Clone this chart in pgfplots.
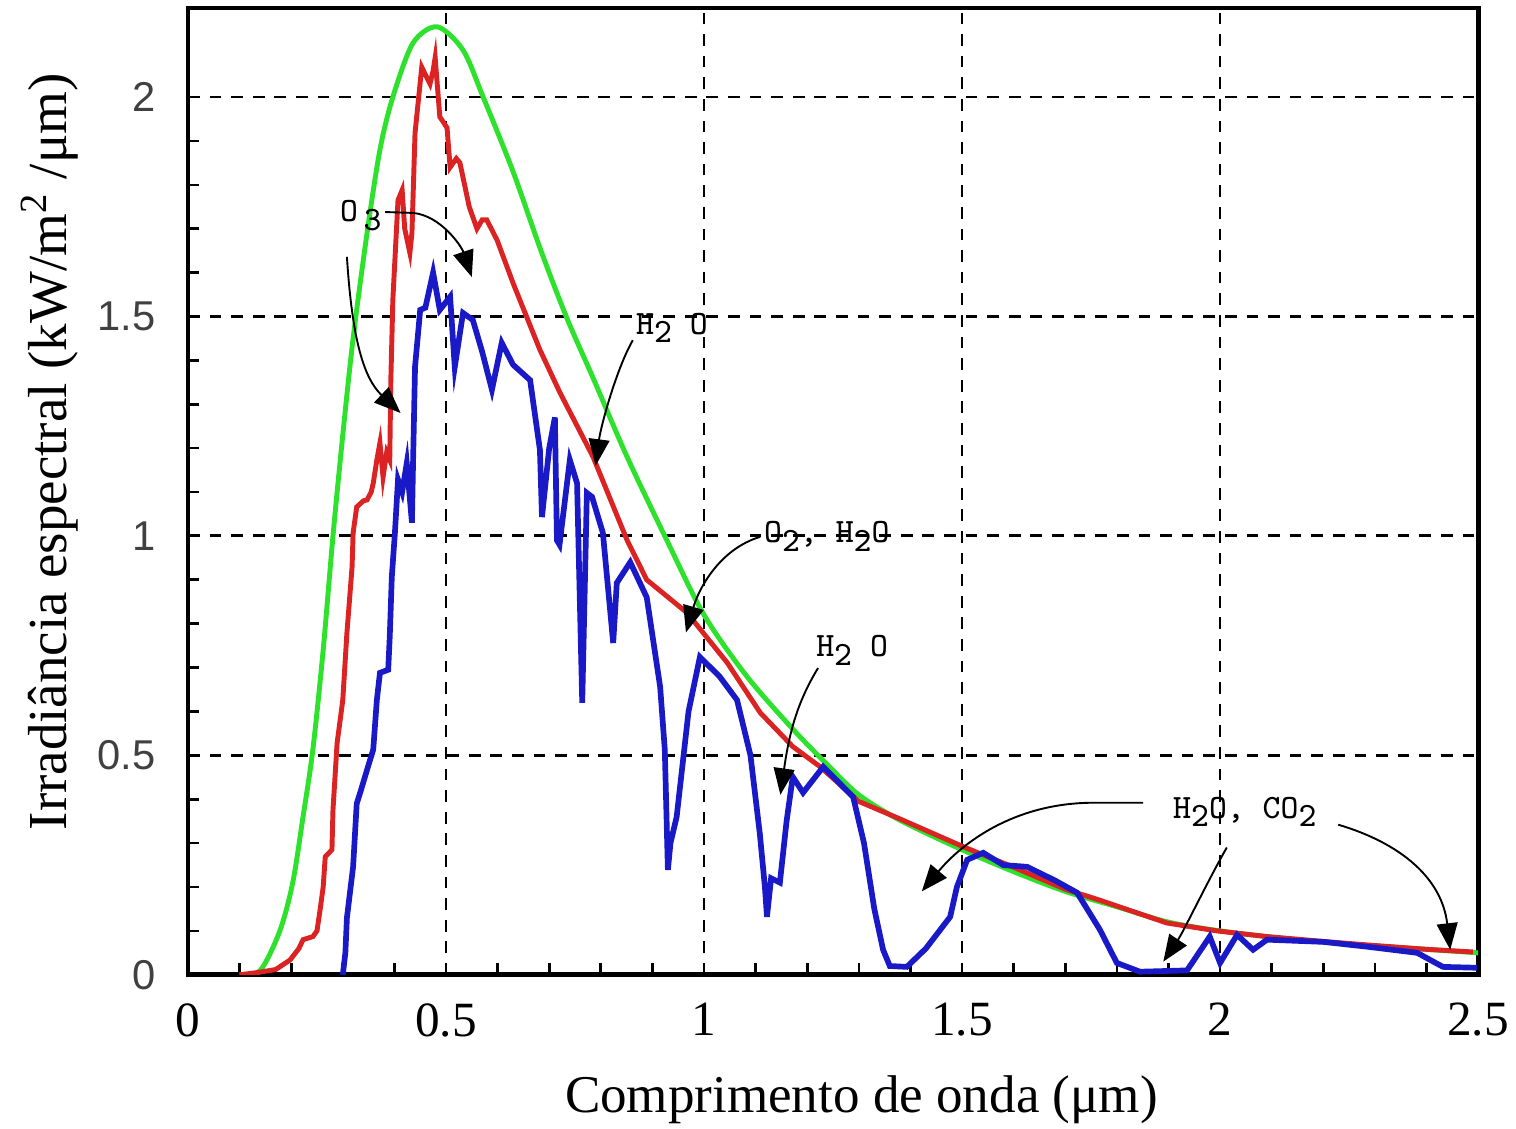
\documentclass[border=0pt]{standalone}
\usepackage{fontspec}
\setmainfont{Liberation Serif}
\setsansfont{Liberation Sans}
\usepackage{pgfplots}
\pgfplotsset{compat=1.18}
\usetikzlibrary{arrows.meta}
\definecolor{cgreen}{RGB}{45,225,45}
\definecolor{cred}{RGB}{220,35,35}
\definecolor{cblue}{RGB}{25,25,200}
\newcommand\sub[1]{\raisebox{-0.6ex}{#1}}
\newcommand\ann{\fontsize{9}{10}\selectfont\ttfamily}
\begin{document}
\begin{tikzpicture}
\useasboundingbox (-49.6pt,-40.6pt) rectangle (350.4pt,257.2pt);
\begin{axis}[
  scale only axis, width=340.4pt, height=255.1pt,
  xmin=0, xmax=2.5, ymin=0, ymax=2.203,
  xtick={0,0.5,1,1.5,2,2.5}, ytick={0,0.5,1,1.5,2},
  minor x tick num=4, minor y tick num=4,
  tick align=inside, tick pos=left,
  major tick length=3pt, minor tick length=3pt,
  every tick/.style={black, line width=0.7pt},
  axis line style={line width=1.3pt},
  grid=major,
  major grid style={black, dash pattern=on 3.1pt off 2.6pt, line width=0.75pt},
  /pgf/number format/assume math mode=true,
  xticklabel style={font=\fontsize{13}{14}\selectfont\rmfamily, yshift=-4pt},
  yticklabel style={font=\fontsize{11}{12}\selectfont\sffamily, text=black!75, xshift=-5pt},
  xlabel={Comprimento de onda (μm)},
  ylabel={Irradiância espectral (kW/m\textsuperscript{2} /μm)},
  xlabel style={font=\fontsize{14}{16}\selectfont, at={(axis description cs:0.522,-0.129)}, anchor=center},
  ylabel style={font=\fontsize{14.5}{16}\selectfont, at={(axis description cs:-0.107,0.541)}, anchor=center},
]
% green (extraterrestrial)
\addplot[cgreen, line width=1.3pt, smooth, tension=0.5] coordinates {
(0.10,0.0) (0.14,0.01) (0.178,0.1) (0.203,0.21) (0.223,0.36) (0.242,0.513) (0.262,0.74)
(0.281,1.0) (0.30,1.23) (0.32,1.45) (0.347,1.69) (0.372,1.88) (0.397,2.0) (0.436,2.123)
(0.483,2.16) (0.533,2.107) (0.572,2.0) (0.63,1.83) (0.684,1.65) (0.734,1.497) (0.785,1.36)
(0.851,1.18) (0.928,0.99) (1.0,0.82) (1.083,0.68) (1.172,0.56) (1.238,0.48) (1.30,0.41)
(1.38,0.352) (1.5,0.285) (1.6,0.235) (1.7,0.19) (1.8,0.155)
(1.9,0.12) (2.0,0.1) (2.1,0.086) (2.2,0.075) (2.3,0.066) (2.4,0.058) (2.5,0.05)
};
% red (sea level, direct)
\addplot[cred, line width=1.3pt] coordinates {
(0.10,0.0) (0.134,0.005) (0.17,0.012) (0.198,0.034) (0.215,0.06) (0.223,0.08) (0.242,0.087)
(0.25,0.1) (0.256,0.148) (0.262,0.2) (0.266,0.269) (0.279,0.285) (0.281,0.376) (0.289,0.528)
(0.3,0.626) (0.308,0.779) (0.318,0.929) (0.32,1.007) (0.327,1.066) (0.34,1.08) (0.347,1.082)
(0.355,1.1) (0.359,1.12) (0.366,1.173) (0.372,1.212) (0.378,1.134) (0.385,1.19) (0.391,1.173)
(0.393,1.35) (0.397,1.538) (0.407,1.765) (0.415,1.788) (0.42,1.7) (0.43,1.645) (0.434,1.69)
(0.44,1.918) (0.453,2.068) (0.469,2.03) (0.475,2.06) (0.479,2.09) (0.488,1.955) (0.502,1.93)
(0.508,1.84) (0.52,1.86) (0.527,1.85) (0.545,1.75) (0.56,1.70) (0.57,1.72)
(0.579,1.72) (0.599,1.674) (0.63,1.576) (0.682,1.424) (0.721,1.326) (0.785,1.18) (0.851,0.99)
(0.889,0.9) (0.967,0.825) (1.045,0.711) (1.109,0.597) (1.172,0.52) (1.225,0.474) (1.30,0.395)
(1.38,0.355) (1.502,0.292) (1.6,0.245) (1.7,0.195) (1.767,0.17) (1.897,0.118) (1.994,0.1)
(2.091,0.087) (2.2,0.076) (2.285,0.068) (2.4,0.058) (2.49,0.052)
};
% blue (sea level, global with absorption)
\addplot[cblue, line width=1.5pt] coordinates {
(0.30,0.0) (0.305,0.05) (0.308,0.13) (0.32,0.246) (0.327,0.39) (0.335,0.42) (0.347,0.467)
(0.359,0.513) (0.366,0.626) (0.372,0.688) (0.388,0.695) (0.391,0.77) (0.395,0.907) (0.401,1.007)
(0.407,1.128) (0.415,1.1) (0.424,1.166) (0.434,1.03) (0.436,1.157) (0.44,1.385) (0.45,1.515)
(0.46,1.52) (0.475,1.6) (0.488,1.515) (0.498,1.53) (0.508,1.545) (0.517,1.385) (0.533,1.508)
(0.552,1.492) (0.57,1.42) (0.589,1.333) (0.608,1.44) (0.63,1.39) (0.663,1.355) (0.682,1.196)
(0.686,1.043) (0.70,1.2) (0.711,1.27) (0.715,0.99) (0.72,0.98) (0.74,1.173) (0.754,1.12)
(0.764,0.62) (0.773,1.098) (0.783,1.089) (0.804,1.007) (0.824,0.756) (0.831,0.893) (0.857,0.94)
(0.889,0.86) (0.915,0.656) (0.924,0.513) (0.93,0.239) (0.935,0.3) (0.947,0.36) (0.97,0.6)
(0.992,0.724) (1.03,0.68) (1.064,0.626) (1.09,0.5) (1.108,0.323) (1.118,0.2) (1.122,0.132)
(1.13,0.22) (1.147,0.21) (1.16,0.35) (1.172,0.451) (1.192,0.415) (1.231,0.474) (1.289,0.405)
(1.31,0.3) (1.33,0.15) (1.347,0.057) (1.36,0.02) (1.393,0.018) (1.43,0.06) (1.477,0.132)
(1.49,0.2) (1.51,0.262) (1.541,0.278) (1.58,0.25) (1.626,0.246) (1.68,0.215) (1.723,0.187)
(1.767,0.103) (1.8,0.027) (1.845,0.007) (1.936,0.01) (1.98,0.087) (2.0,0.027) (2.033,0.091)
(2.064,0.057) (2.091,0.08) (2.2,0.075) (2.285,0.064) (2.382,0.05) (2.432,0.018) (2.498,0.016)
};
% annotations
\tikzset{ann/.style={black, line width=0.5pt, -{Triangle[length=7pt,width=5.5pt]}}}
\node at (axis cs:0.335,1.73) {\ann O\,\sub{3}};
\draw[ann] (axis cs:0.308,1.636) .. controls (axis cs:0.318,1.45) and (axis cs:0.34,1.36) .. (axis cs:0.412,1.28);
\draw[ann] (axis cs:0.382,1.738) -- (axis cs:0.436,1.736) .. controls (axis cs:0.49,1.73) and (axis cs:0.53,1.66) .. (axis cs:0.55,1.59);
\node at (axis cs:0.938,1.474) {\ann H\sub{2} O};
\draw[ann] (axis cs:0.862,1.446) .. controls (axis cs:0.83,1.38) and (axis cs:0.8,1.25) .. (axis cs:0.79,1.16);
\node at (axis cs:1.238,0.998) {\ann O\sub{2}, H\sub{2}O};
\draw[ann] (axis cs:1.109,0.998) .. controls (axis cs:1.03,0.97) and (axis cs:0.99,0.88) .. (axis cs:0.965,0.78);
\node at (axis cs:1.287,0.74) {\ann H\sub{2} O};
\draw[ann] (axis cs:1.221,0.699) .. controls (axis cs:1.18,0.62) and (axis cs:1.165,0.55) .. (axis cs:1.148,0.41);
\node at (axis cs:2.048,0.371) {\ann H\sub{2}O, CO\sub{2}};
\draw[ann] (axis cs:1.851,0.392) -- (axis cs:1.75,0.392) .. controls (axis cs:1.6,0.39) and (axis cs:1.5,0.3) .. (axis cs:1.422,0.19);
\draw[ann] (axis cs:2.013,0.29) .. controls (axis cs:1.97,0.2) and (axis cs:1.93,0.1) .. (axis cs:1.89,0.03);
\draw[ann] (axis cs:2.229,0.342) .. controls (axis cs:2.35,0.3) and (axis cs:2.43,0.22) .. (axis cs:2.446,0.057);
\end{axis}
\end{tikzpicture}
\end{document}
